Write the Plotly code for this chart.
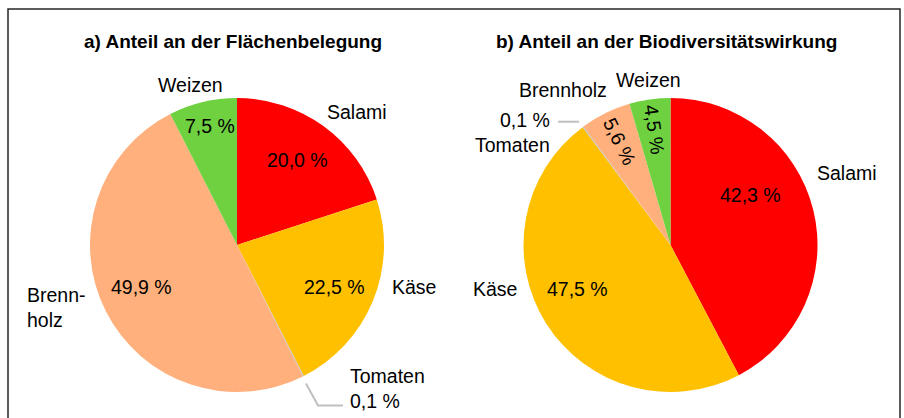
import math
import plotly.graph_objects as go

# ---------------- data ----------------
categories = ["Salami", "Käse", "Tomaten", "Brennholz", "Weizen"]
flaeche = [20.0, 22.5, 0.1, 49.9, 7.5]          # a) Anteil an der Flächenbelegung (%)
biodiv = [42.3, 47.5, 0.1, 5.6, 4.5]            # b) Anteil an der Biodiversitätswirkung (%)
titles = ["a) Anteil an der Flächenbelegung", "b) Anteil an der Biodiversitätswirkung"]

# ---------------- style ----------------
colors = ["#FF0000", "#FFC000", "#BFBFBF", "#FFB07D", "#6FD140"]
W, H = 904, 418
R = 147
centers = [(237, 245), (670.5, 245)]
FONT = "Liberation Sans, Arial, sans-serif"
FS = 19.5

# label placement (pixel offsets from pie centre)
name_pos = [
    {"Salami": (120, -133), "Käse": (177, 42), "Tomaten": (111, 143),
     "Brennholz": (-212, 62), "Weizen": (-47, -160)},
    {"Salami": (176, -72), "Käse": (-175, 44), "Tomaten": (-119, -113),
     "Brennholz": (-108, -155), "Weizen": (-22, -165)},
]
pct_pos = [
    {"Salami": (60, -85), "Käse": (97, 42), "Tomaten": (0, 0),
     "Brennholz": (-96, 42), "Weizen": (-27, -119)},
    {"Salami": (80, -50), "Käse": (-93, 44), "Tomaten": (0, 0),
     "Brennholz": (-51, -104), "Weizen": (-16, -116)},
]
rotate_pct = [set(), {"Brennholz", "Weizen"}]


def px(x):
    return x / W


def py(y):
    return 1 - y / H


def fmt(v):
    return f"{v:.1f}".replace(".", ",") + " %"


fig = go.Figure()
annotations = []
shapes = []

for k, vals in enumerate([flaeche, biodiv]):
    cx, cy = centers[k]
    fig.add_trace(go.Pie(
        labels=categories, values=vals, sort=False, direction="clockwise", rotation=0,
        marker=dict(colors=colors, line=dict(width=0)),
        textinfo="none", hoverinfo="label+value", showlegend=False,
        domain=dict(x=[px(cx - R), px(cx + R)], y=[py(cy + R), py(cy - R)]),
    ))
    annotations.append(dict(x=px(cx - 4), y=py(42), xref="paper", yref="paper",
                            xanchor="center", yanchor="middle",
                            text=f"<b>{titles[k]}</b>", showarrow=False,
                            font=dict(size=19, family=FONT, color="#000")))
    total = sum(vals)
    cum = 0
    for cat, v in zip(categories, vals):
        mid = (cum + v / 2) / total * 2 * math.pi
        cum += v
        nx, ny = name_pos[k][cat]
        name_txt = cat
        align = "center"
        xanchor = "center"
        if k == 0 and cat == "Brennholz":
            name_txt = "Brenn-<br>holz"
            align = "left"
            xanchor = "left"
        if cat == "Tomaten":
            pt = fmt(v)
            if k == 0:
                name_txt = f"{cat}<br>{pt}"
                align = "left"
                xanchor = "left"
            else:
                name_txt = f"{pt}<br>{cat}"
                align = "right"
                xanchor = "right"
        annotations.append(dict(x=px(cx + nx), y=py(cy + ny), xref="paper", yref="paper",
                                text=name_txt, showarrow=False, align=align,
                                xanchor=xanchor, yanchor="middle",
                                font=dict(size=FS, family=FONT, color="#000")))
        if cat == "Tomaten":
            ex = cx + 1.01 * R * math.sin(mid)
            ey = cy - 1.01 * R * math.cos(mid)
            if k == 0:
                pts = [(ex + 2, ey + 6), (ex + 14, ey + 28), (ex + 39, ey + 28)]
            else:
                pts = [(ex - 3, ey - 4), (ex - 24, ey - 4)]
            path = "M " + " L ".join(f"{px(a)},{py(b)}" for a, b in pts)
            shapes.append(dict(type="path", path=path, xref="paper", yref="paper",
                               line=dict(color="#BFBFBF", width=2)))
            continue
        qx, qy = pct_pos[k][cat]
        ang = 0
        if cat in rotate_pct[k]:
            dx, dy = -math.sin(mid), math.cos(mid)
            ang = math.degrees(math.atan2(dy, dx))
        annotations.append(dict(x=px(cx + qx), y=py(cy + qy), xref="paper", yref="paper",
                                xanchor="center", yanchor="middle",
                                text=fmt(v), showarrow=False, textangle=ang,
                                font=dict(size=FS, family=FONT, color="#000")))

shapes.append(dict(type="rect", xref="paper", yref="paper",
                   x0=px(8), x1=px(900), y0=-0.1, y1=py(9),
                   line=dict(color="#262626", width=1.5), fillcolor="rgba(0,0,0,0)"))

fig.update_layout(
    width=W, height=H, margin=dict(l=0, r=0, t=0, b=0),
    paper_bgcolor="white", plot_bgcolor="white",
    annotations=annotations, shapes=shapes,
    font=dict(family=FONT),
)
fig.write_html("out.html", config={"displayModeBar": False},
               post_script="document.body.style.margin='0';document.body.style.overflow='hidden';")
